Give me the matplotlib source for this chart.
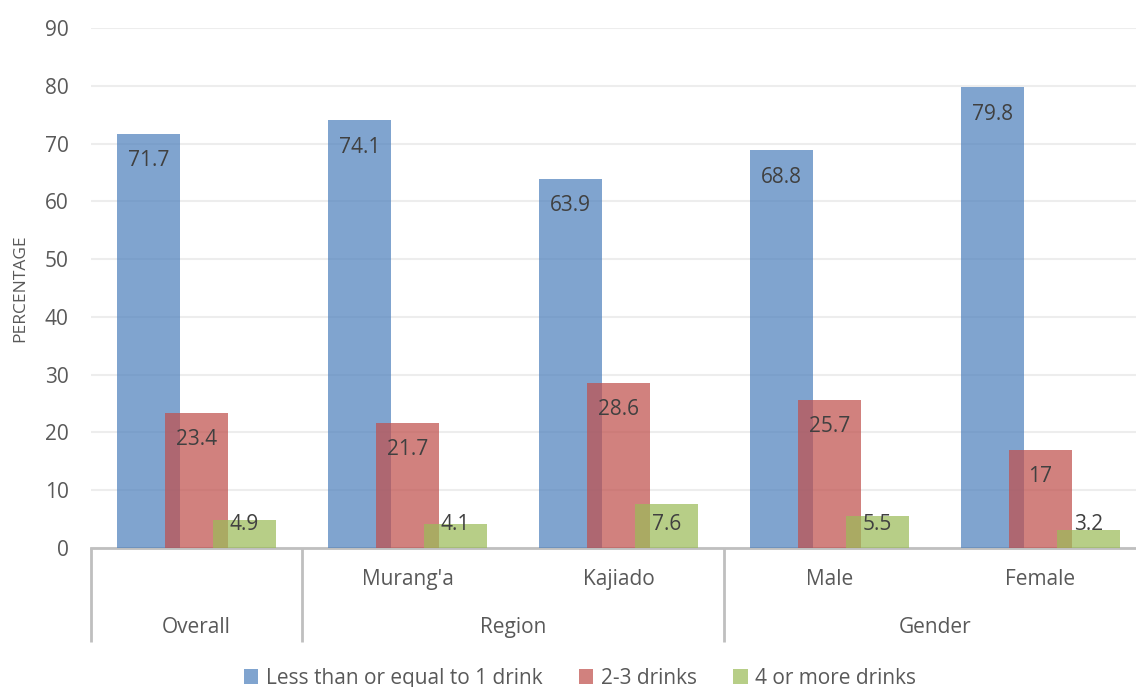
import numpy as np
import matplotlib
matplotlib.use("Agg")
import matplotlib.pyplot as plt
from matplotlib.patches import Patch

plt.rcParams['font.family'] = ['Open Sans', 'DejaVu Sans']

# drinks per session, percentage of respondents
categories = ["Overall", "Murang'a", "Kajiado", "Male", "Female"]
groups = [("Overall", 0, 0), ("Region", 1, 2), ("Gender", 3, 4)]
series = ["Less than or equal to 1 drink", "2-3 drinks", "4 or more drinks"]
le1 = [71.7, 74.1, 63.9, 68.8, 79.8]
two_three = [23.4, 21.7, 28.6, 25.7, 17]
four_plus = [4.9, 4.1, 7.6, 5.5, 3.2]
colors = ["#4F81BD", "#C0504D", "#9BBB59"]
yticks = list(range(0, 100, 10))

W, H = 1136, 687
fig = plt.figure(figsize=(W / 100, H / 100), dpi=100)
ax = fig.add_axes([91 / W, (H - 548) / H, (1146 - 91) / W, (548 - 28) / H])

x = np.arange(len(categories))
offsets = [-0.227, 0.0, 0.227]
width = 0.30
alpha = 0.72
text_col = "#595959"
grey = "#BFBFBF"

for vals, off, col in zip([le1, two_three, four_plus], offsets, colors):
    ax.bar(x + off, vals, width, color=col, alpha=alpha, zorder=3, linewidth=0)
    for xi, v in zip(x, vals):
        ax.text(xi + off, max(v - 4.7, 4.15), f"{v:g}", ha="center", va="center",
                fontsize=15, color="#404040", zorder=4)

ax.set_xlim(-0.5, len(categories) - 0.5)
ax.set_ylim(0, 90)
ax.set_yticks(yticks)
ax.tick_params(axis="y", length=0, pad=16, labelsize=15, labelcolor=text_col)
ax.set_xticks([])
ax.grid(axis="y", color="#EDEDED", linewidth=1.5, zorder=0)
for s in ["left", "right", "top"]:
    ax.spines[s].set_visible(False)
ax.spines["bottom"].set_color(grey)
ax.spines["bottom"].set_linewidth(2)
ax.set_ylabel("PERCENTAGE", fontsize=12.5, color=text_col, labelpad=12)

# two-level category axis
tr = ax.get_xaxis_transform()
for name, a, b in groups:
    if a == b:
        ax.text(a, -0.152, name, transform=tr, ha="center", va="center",
                fontsize=15, color=text_col)
    else:
        for i in range(a, b + 1):
            ax.text(i, -0.0615, categories[i], transform=tr, ha="center", va="center",
                    fontsize=15, color=text_col)
        ax.text((a + b) / 2, -0.152, name, transform=tr, ha="center", va="center",
                fontsize=15, color=text_col)
for xd in [-0.5, 0.5, 2.5, 4.5]:
    ax.plot([xd, xd], [0, -0.181], transform=tr, color=grey, linewidth=2,
            clip_on=False, solid_capstyle="butt")

handles = [Patch(facecolor=c, alpha=alpha, linewidth=0) for c in colors]
fig.legend(handles, series, loc="center", bbox_to_anchor=(0.5105, 0.013), ncol=3,
           frameon=False, fontsize=15, labelcolor=text_col, handlelength=0.7,
           handleheight=0.7, handletextpad=0.35, columnspacing=1.75)

fig.savefig("out.png", dpi=100)
